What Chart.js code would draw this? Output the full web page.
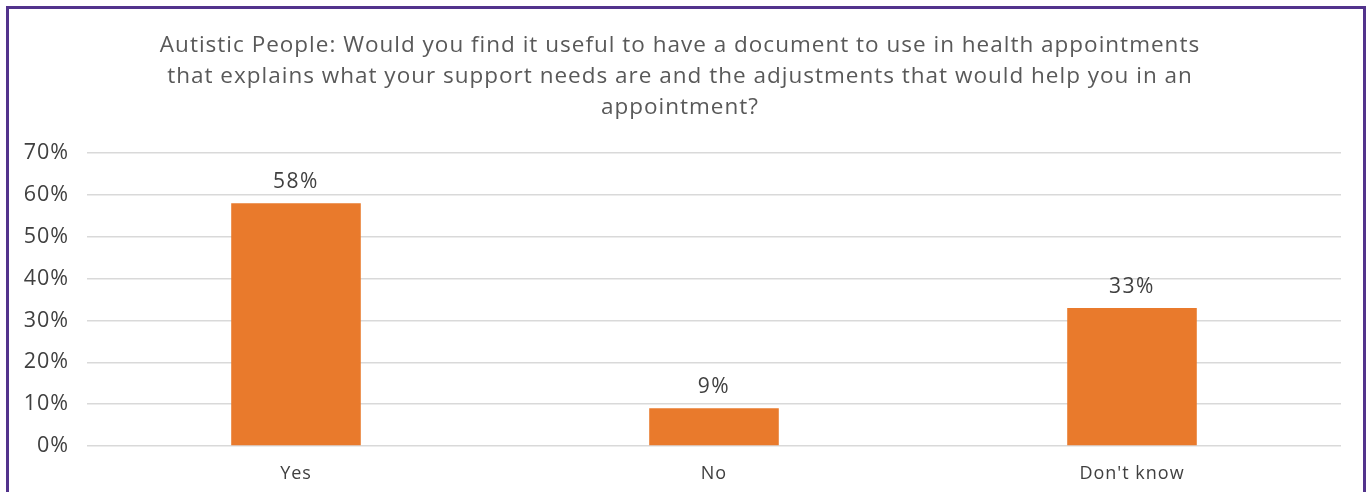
<!DOCTYPE html>
<html lang="en">
<head>
    <meta charset="UTF-8">
    <title>Autistic People: health appointment document</title>
    <style>
        body {
            margin: 0;
            background-color: #ffffff;
        }
        #frame {
            position: absolute;
            left: 6px;
            top: 6px;
            width: 1354px;
            height: 490px;
            border: 3px solid #52338c;
            border-bottom: none;
            background: #fff;
        }
        canvas {
            display: block;
        }
    </style>
    <script src="https://cdn.jsdelivr.net/npm/chart.js"></script>
</head>
<body>
    <div id="frame">
        <canvas id="myChart" width="1354" height="490"></canvas>
    </div>

    <script>
        // Dane z wykresu
        const categories = ['Yes', 'No', "Don't know"];
        const percentages = [58, 9, 33];
        const tickValues = [0, 10, 20, 30, 40, 50, 60, 70];

        const titleLines = [
            'Autistic People: Would you find it useful to have a document to use in health appointments',
            'that explains what your support needs are and the adjustments that would help you in an',
            'appointment?'
        ];

        const textColor = '#404040';
        const fontFamily = '"Open Sans", sans-serif';

        // Szerszy tekst (oryginał używa szerokiego kroju)
        const spacing = {
            id: 'spacing',
            beforeUpdate(chart) { chart.ctx.letterSpacing = '1px'; },
            beforeLayout(chart) { chart.ctx.letterSpacing = '1px'; },
            beforeDraw(chart) { chart.ctx.letterSpacing = '1px'; }
        };

        // Etykiety nad słupkami
        const barLabels = {
            id: 'barLabels',
            afterDatasetsDraw(chart) {
                const ctx = chart.ctx;
                const meta = chart.getDatasetMeta(0);
                ctx.save();
                ctx.letterSpacing = '1.5px';
                ctx.font = '21px ' + fontFamily;
                ctx.fillStyle = textColor;
                ctx.textAlign = 'center';
                ctx.textBaseline = 'middle';
                meta.data.forEach((bar, i) => {
                    ctx.fillText(percentages[i] + '%', bar.x, bar.y - 21);
                });
                ctx.restore();
            }
        };

        const ctx = document.getElementById('myChart').getContext('2d');
        const myChart = new Chart(ctx, {
            type: 'bar',
            data: {
                labels: categories,
                datasets: [{
                    data: percentages,
                    backgroundColor: '#e97a2c',
                    borderWidth: 0,
                    categoryPercentage: 1,
                    barPercentage: 0.31
                }]
            },
            options: {
                responsive: false,
                animation: false,
                layout: {
                    padding: { left: 10, right: 22, top: 0, bottom: 0 }
                },
                plugins: {
                    legend: { display: false },
                    tooltip: { enabled: false },
                    title: {
                        display: true,
                        text: titleLines,
                        color: '#595959',
                        font: { family: fontFamily, size: 22.5, weight: 'normal', lineHeight: 1.378 },
                        padding: { top: 21, bottom: 30 }
                    }
                },
                scales: {
                    x: {
                        grid: { display: false },
                        border: { display: false },
                        afterFit(scale) {
                            scale.height = 53;
                        },
                        ticks: {
                            color: textColor,
                            font: { family: fontFamily, size: 18 },
                            padding: 9
                        }
                    },
                    y: {
                        min: 0,
                        max: 70,
                        afterBuildTicks(scale) {
                            scale.ticks = tickValues.map(v => ({ value: v }));
                        },
                        afterFit(scale) {
                            scale.width = 68;
                        },
                        grid: { color: '#d9d9d9', lineWidth: 1.5, drawTicks: false },
                        border: { display: false },
                        ticks: {
                            color: textColor,
                            font: { family: fontFamily, size: 21.5 },
                            padding: 18,
                            callback: v => v + '%'
                        }
                    }
                }
            },
            plugins: [spacing, barLabels]
        });
    </script>
</body>
</html>
